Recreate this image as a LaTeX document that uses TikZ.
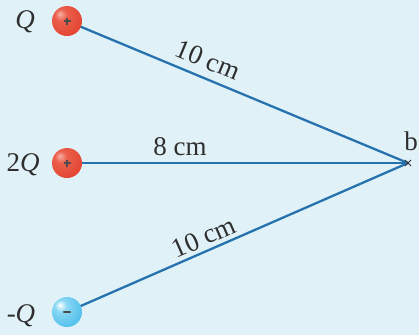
\documentclass[tikz,border=0pt]{standalone}
\usepackage{fontspec}
\setmainfont{Liberation Serif}
\definecolor{rb0}{HTML}{F6B0A4}
\definecolor{rb1}{HTML}{EC5F4C}
\definecolor{rb2}{HTML}{E2432F}
\definecolor{rb3}{HTML}{C62F1E}
\definecolor{bb0}{HTML}{FFFFFF}
\definecolor{bb1}{HTML}{8AD8F4}
\definecolor{bb2}{HTML}{4CBDEB}
\definecolor{bb3}{HTML}{1A86C8}
\pgfdeclareradialshading{redball}{\pgfpoint{-12bp}{12bp}}{%
  color(0bp)=(rb0); color(10bp)=(rb1); color(35bp)=(rb2);
  color(55bp)=(rb3); color(70bp)=(rb3)}
\pgfdeclareradialshading{blueball}{\pgfpoint{-12bp}{12bp}}{%
  color(0bp)=(bb0); color(10bp)=(bb1); color(35bp)=(bb2);
  color(52bp)=(bb3); color(70bp)=(bb3)}
\begin{document}
\begin{tikzpicture}[x=1pt,y=-1pt,
  lbl/.style={font=\fontsize{27}{30}\selectfont, text=black!82, inner sep=1pt},
  wire/.style={draw=wireblue, line width=2.3pt},
  poscharge/.style={circle, minimum size=30pt, inner sep=0pt, shading=redball},
  negcharge/.style={circle, minimum size=30pt, inner sep=0pt, shading=blueball},
  sign/.style={draw=black!70, line width=1.5pt}
]
\definecolor{wireblue}{HTML}{2672AE}
\definecolor{bgblue}{HTML}{E0F2F8}
\fill[bgblue] (0,0) rectangle (419,335);
\useasboundingbox (0,0) rectangle (419,335);
\coordinate (b) at (408,163);
\draw[wire] (67,21) -- (b);
\draw[wire] (67,163) -- (b);
\draw[wire] (67,312) -- (b);
\node[poscharge] (q1) at (67,21) {};
\node[poscharge] (q2) at (67,163) {};
\node[negcharge] (q3) at (67,312) {};
\foreach \q in {q1,q2}{
  \draw[sign] ([xshift=-3.5pt]\q.center) -- ([xshift=3.5pt]\q.center)
              ([yshift=-3.5pt]\q.center) -- ([yshift=3.5pt]\q.center);
}
\draw[sign, line width=2.4pt, line cap=round] ([xshift=-3pt]q3.center) -- ([xshift=3pt]q3.center);
\draw[black!80, line width=1pt] ([shift={(-3,-3)}]b) -- ([shift={(3,3)}]b) ([shift={(-3,3)}]b) -- ([shift={(3,-3)}]b);
\node[lbl] (lb) at (411,141) {b};
\node[lbl] (l1) at (25,22) {\itshape Q};
\node[lbl] (l2) at (23,165) {2\itshape Q};
\node[lbl] (l3) at (21,316) {-\itshape Q};
\node[lbl, rotate=-22.6] (d1) at (208,60) {10 cm};
\node[lbl] (d2) at (180,147) {8 cm};
\node[lbl, rotate=23.6] (d3) at (204,237) {10 cm};
\end{tikzpicture}
\end{document}
